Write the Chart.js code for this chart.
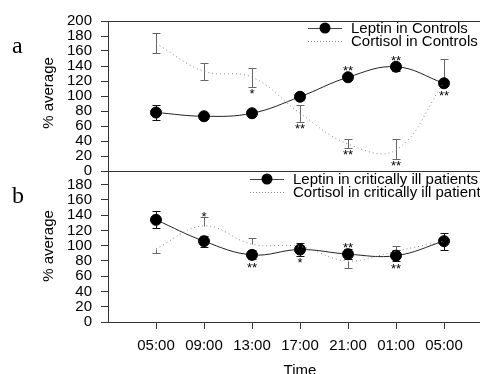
<!DOCTYPE html>
<html>
<head>
<meta charset="utf-8">
<script src="https://cdn.jsdelivr.net/npm/chart.js@4.4.0/dist/chart.umd.min.js"></script>
<style>
html, body { margin: 0; padding: 0; background: #fff; width: 480px; height: 374px; overflow: hidden; }
canvas { position: absolute; left: 0; }
#ca { top: 0; }
#cb { top: 160px; }
</style>
</head>
<body>
<canvas id="ca" width="480" height="185"></canvas>
<canvas id="cb" width="480" height="214"></canvas>
<script>
// time points (x axis)
var timeLabels = ['05:00', '09:00', '13:00', '17:00', '21:00', '01:00', '05:00'];

// panel a - controls
var leptinCtrl = [78, 73, 77, 99, 125, 139, 117];
var leptinCtrlErr = [10, 3, 3, 4, 4, 5, 4];
var cortisolCtrl = [170, 133, 125, 77, 36, 28, 118];
var cortisolCtrlUp = [14, 11, 12, 11, 7, 15, 31];
var cortisolCtrlDown = [13, 11, 13, 12, 5, 12, 0];

// panel b - critically ill
var leptinIll = [134, 106, 88, 95, 89, 87, 106];
var leptinIllErr = [11, 7, 6, 8, 7, 7, 11];
var cortisolIll = [96, 126, 102, 99, 80, 93, 106];
var cortisolIllUp = [0, 12, 8, 2, 0, 7, 0];
var cortisolIllDown = [5, 0, 0, 0, 9, 0, 0];

// significance marks: index, text, above/below
var leptinCtrlStars = [{i: 4, t: '**', up: true}, {i: 5, t: '**', up: true}, {i: 6, t: '**', up: false}];
var cortisolCtrlStars = [{i: 2, t: '*', up: false}, {i: 3, t: '**', up: false}, {i: 4, t: '**', up: false}, {i: 5, t: '**', up: false}];
var leptinIllStars = [{i: 2, t: '**', up: false}, {i: 3, t: '*', up: false}, {i: 4, t: '**', up: true}, {i: 5, t: '**', up: false}];
var cortisolIllStars = [{i: 1, t: '*', up: true}];

var FONT = '"Liberation Sans", Arial, sans-serif';

function pts(arr) {
  return arr.map(function(v, i) { return {x: i, y: v}; });
}

function leptinSet(label, vals, err, stars) {
  return {
    label: label, data: pts(vals), vals: vals, errUp: err, errDown: err, errColor: '#111', stars: stars,
    borderColor: '#222', borderWidth: 1, tension: 0.4,
    pointRadius: 5.5, pointBackgroundColor: '#000', pointBorderColor: '#000', pointBorderWidth: 1
  };
}
function cortisolSet(label, vals, up, down, stars) {
  return {
    label: label, data: pts(vals), vals: vals, errUp: up, errDown: down, errColor: '#666', stars: stars,
    borderColor: '#888', borderWidth: 1, borderDash: [1, 3], tension: 0.4, pointRadius: 0
  };
}

var extras = {
  id: 'extras',
  beforeDatasetsDraw: function(chart) {
    var ctx = chart.ctx, xs = chart.scales.x, ys = chart.scales.y;
    chart.data.datasets.forEach(function(ds) {
      ctx.save();
      ctx.strokeStyle = ds.errColor;
      ctx.lineWidth = 1;
      ds.vals.forEach(function(v, i) {
        var up = ds.errUp[i], dn = ds.errDown[i];
        var x = Math.round(xs.getPixelForValue(i)) + 0.5;
        var yT = Math.round(ys.getPixelForValue(v + up)) + 0.5;
        var yB = Math.round(ys.getPixelForValue(v - dn)) + 0.5;
        ctx.beginPath();
        ctx.moveTo(x, yT); ctx.lineTo(x, yB);
        if (up > 0) { ctx.moveTo(x - 4, yT); ctx.lineTo(x + 4, yT); }
        if (dn > 0) { ctx.moveTo(x - 4, yB); ctx.lineTo(x + 4, yB); }
        ctx.stroke();
      });
      ctx.restore();
    });
  },
  afterDatasetsDraw: function(chart, args, o) {
    var ctx = chart.ctx, xs = chart.scales.x, ys = chart.scales.y;
    ctx.save();
    // stars
    ctx.fillStyle = '#000';
    ctx.font = '13px ' + FONT;
    ctx.textAlign = 'center';
    ctx.textBaseline = 'alphabetic';
    chart.data.datasets.forEach(function(ds) {
      ds.stars.forEach(function(s) {
        var v = ds.vals[s.i];
        var x = xs.getPixelForValue(s.i);
        var r = ds.pointRadius ? 6 : 0;
        if (s.up) {
          var top = Math.min(ys.getPixelForValue(v + ds.errUp[s.i]), ys.getPixelForValue(v) - r);
          ctx.fillText(s.t, x, top + 4);
        } else {
          var bot = Math.max(ys.getPixelForValue(v - ds.errDown[s.i]), ys.getPixelForValue(v) + r);
          ctx.fillText(s.t, x, bot + 11);
        }
      });
    });
    // top frame line
    if (o.frame) {
      ctx.strokeStyle = '#333';
      ctx.beginPath();
      ctx.moveTo(chart.chartArea.left, chart.chartArea.top + 0.5);
      ctx.lineTo(chart.chartArea.right, chart.chartArea.top + 0.5);
      ctx.stroke();
    }
    // legend
    o.legend.forEach(function(l, k) {
      var y = o.legY + k * 13;
      ctx.strokeStyle = k === 0 ? '#444' : '#888';
      ctx.setLineDash(k === 0 ? [] : [1, 2]);
      ctx.beginPath();
      ctx.moveTo(o.legX, y + 0.5); ctx.lineTo(o.legX + 34, y + 0.5);
      ctx.stroke();
      ctx.setLineDash([]);
      if (k === 0) {
        ctx.fillStyle = '#000';
        ctx.beginPath(); ctx.arc(o.legX + 17, y, 5.5, 0, Math.PI * 2); ctx.fill();
      }
      ctx.fillStyle = '#000';
      ctx.font = '15px ' + FONT;
      ctx.textAlign = 'left';
      ctx.textBaseline = 'middle';
      ctx.fillText(l, o.legX + 43, y + 1);
    });
    // panel letter
    ctx.font = '24px "Liberation Serif", "Times New Roman", serif';
    ctx.textAlign = 'left';
    ctx.textBaseline = 'alphabetic';
    ctx.fillText(o.letter, 12, o.letterY);
    // y title
    ctx.font = '15px ' + FONT;
    ctx.textAlign = 'center';
    ctx.textBaseline = 'middle';
    ctx.translate(49, o.titleY);
    ctx.rotate(-Math.PI / 2);
    ctx.fillText('% average', 0, 0);
    ctx.rotate(Math.PI / 2);
    ctx.translate(-49, -o.titleY);
    if (o.xTitle) {
      ctx.textBaseline = 'alphabetic';
      ctx.fillText(o.xTitle, 300, chart.height + 1);
    }
    ctx.restore();
  }
};

function yAxis(max) {
  return {
    min: 0, max: max,
    afterFit: function(s) { s.width = 108; s.paddingTop = 0; s.paddingBottom = 0; },
    afterBuildTicks: function(s) { s.ticks = s.ticks.filter(function(t) { return t.value % 20 === 0; }); },
    ticks: { stepSize: 20, autoSkip: false, includeBounds: false, color: '#000', font: {family: FONT, size: 15}, padding: 9 },
    grid: { drawOnChartArea: false, tickLength: 7, color: '#333' },
    border: { color: '#333' }
  };
}

// panel a
new Chart(document.getElementById('ca'), {
  type: 'line',
  data: {
    datasets: [
      cortisolSet('Cortisol in Controls', cortisolCtrl, cortisolCtrlUp, cortisolCtrlDown, cortisolCtrlStars),
      leptinSet('Leptin in Controls', leptinCtrl, leptinCtrlErr, leptinCtrlStars)
    ]
  },
  options: {
    responsive: false, animation: false,
    layout: { autoPadding: false, padding: { top: 21, bottom: 14, left: 0, right: 0 } },
    plugins: {
      legend: { display: false }, tooltip: { enabled: false },
      extras: { frame: true, letter: 'a', letterY: 53, titleY: 93, legX: 308, legY: 28,
        legend: ['Leptin in Controls', 'Cortisol in Controls'] }
    },
    scales: {
      x: { type: 'linear', min: -1, max: 6.75,
        afterFit: function(s) { s.height = 0; },
        ticks: { display: false }, grid: { display: false }, border: { color: '#333' } },
      y: yAxis(200)
    }
  },
  plugins: [extras]
});

// panel b
new Chart(document.getElementById('cb'), {
  type: 'line',
  data: {
    datasets: [
      cortisolSet('Cortisol in critically ill patients', cortisolIll, cortisolIllUp, cortisolIllDown, cortisolIllStars),
      leptinSet('Leptin in critically ill patients', leptinIll, leptinIllErr, leptinIllStars)
    ]
  },
  options: {
    responsive: false, animation: false,
    layout: { autoPadding: false, padding: { top: 11, bottom: 0, left: 0, right: 0 } },
    plugins: {
      legend: { display: false }, tooltip: { enabled: false },
      extras: { frame: false, letter: 'b', letterY: 43, titleY: 86, legX: 250, legY: 19, xTitle: 'Time',
        legend: ['Leptin in critically ill patients', 'Cortisol in critically ill patients'] }
    },
    scales: {
      x: { type: 'linear', min: -1, max: 6.75,
        afterFit: function(s) { s.height = 52; },
        afterBuildTicks: function(s) { s.ticks = timeLabels.map(function(l, i) { return {value: i}; }); },
        ticks: { autoSkip: false, maxRotation: 0, color: '#000', font: {family: FONT, size: 15}, padding: 8,
          callback: function(v) { return timeLabels[v]; } },
        grid: { drawOnChartArea: false, tickLength: 7, color: '#333' },
        border: { color: '#333' } },
      y: yAxis(198)
    }
  },
  plugins: [extras]
});
</script>
</body>
</html>
